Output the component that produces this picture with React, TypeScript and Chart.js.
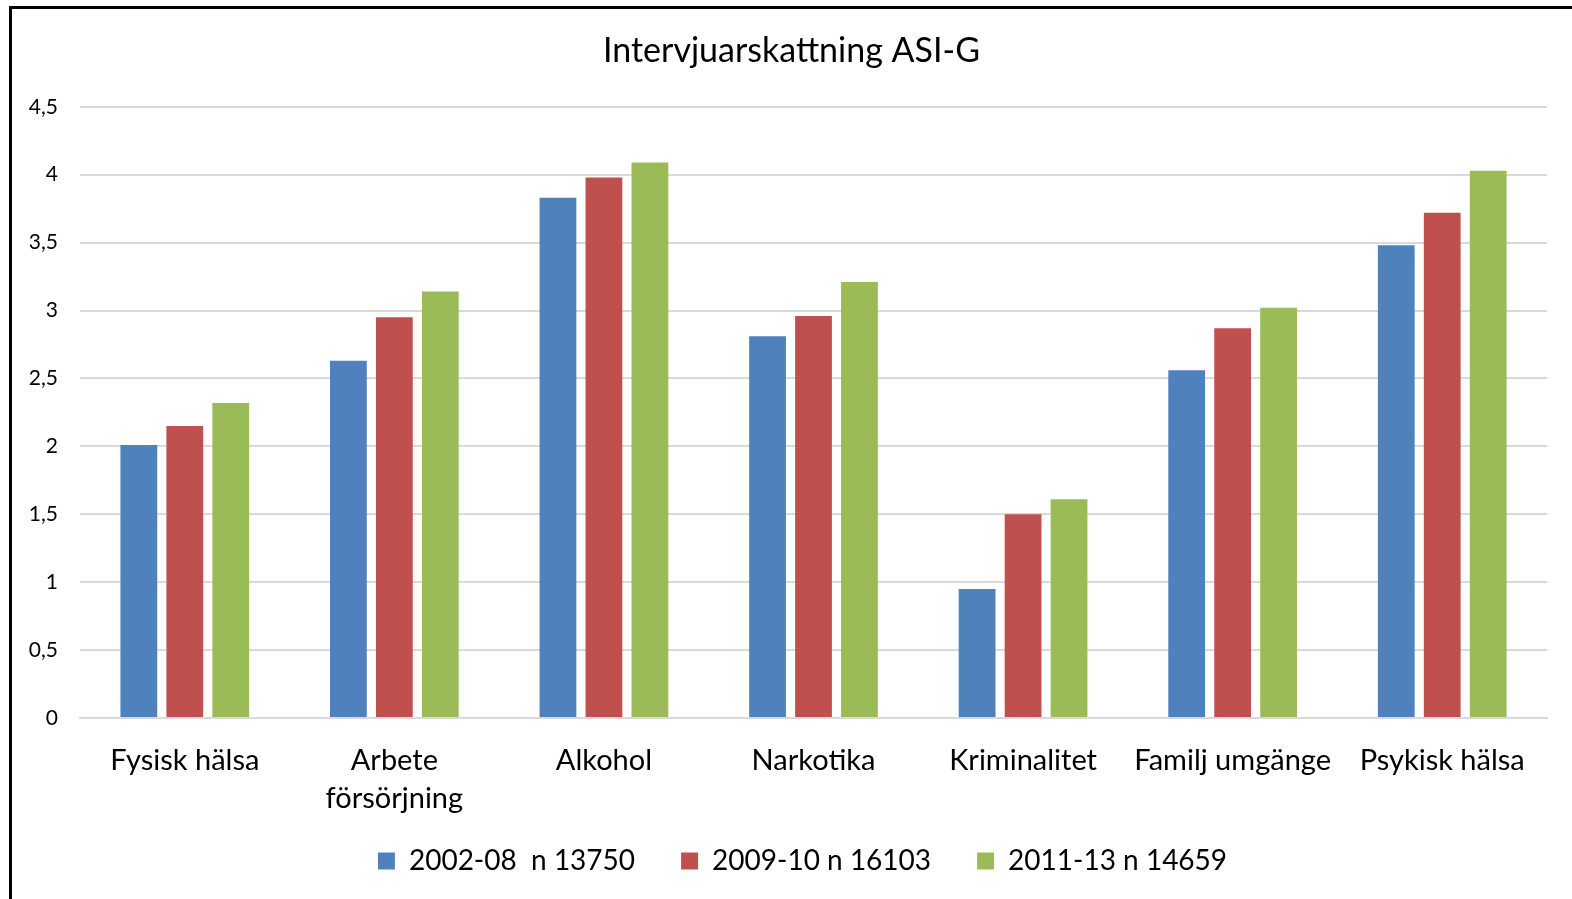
import React, { useEffect, useRef } from "react";
import { Chart, registerables } from "chart.js";

Chart.register(...registerables);

const categories: (string | string[])[] = [
  "Fysisk hälsa",
  ["Arbete", "försörjning"],
  "Alkohol",
  "Narkotika",
  "Kriminalitet",
  "Familj umgänge",
  "Psykisk hälsa",
];

const series2002: number[] = [2.01, 2.63, 3.83, 2.81, 0.95, 2.56, 3.48];
const series2009: number[] = [2.15, 2.95, 3.98, 2.96, 1.5, 2.87, 3.72];
const series2011: number[] = [2.32, 3.14, 4.09, 3.21, 1.61, 3.02, 4.03];

const seriesLabels: string[] = ["2002-08  n 13750", "2009-10 n 16103", "2011-13 n 14659"];
const seriesColors: string[] = ["#4F81BD", "#C0504D", "#9BBB59"];

const titleText = "Intervjuarskattning ASI-G";
const yMin = 0;
const yMax = 4.5;
const yStep = 0.5;

const FONT = "Lato, 'DejaVu Sans', sans-serif";
const W = 1572;
const H = 899;

const framePlugin = {
  id: "frame",
  afterLayout(chart: any) {
    const t = chart.titleBlock;
    if (t) {
      t.left += 18;
      t.right += 18;
    }
    const l = chart.legend;
    if (l) {
      l.left += 29;
      l.right += 29;
      l.top -= 17;
      l.bottom -= 17;
    }
  },
  afterDraw(chart: any) {
    const ctx = chart.ctx;
    ctx.save();
    ctx.fillStyle = "#000";
    ctx.fillRect(9, 6, 3, chart.height);
    ctx.fillRect(9, 6, chart.width, 3);
    ctx.restore();
  },
};

export default function App() {
  const ref = useRef<HTMLCanvasElement | null>(null);

  useEffect(() => {
    if (!ref.current) return;
    const data = [series2002, series2009, series2011];
    const chart = new Chart(ref.current, {
      type: "bar",
      data: {
        labels: categories,
        datasets: data.map((d, i) => ({
          label: seriesLabels[i],
          data: d,
          backgroundColor: seriesColors[i],
          borderWidth: 0,
          categoryPercentage: 0.658,
          barPercentage: 0.8,
        })),
      },
      options: {
        responsive: false,
        animation: false,
        devicePixelRatio: 1,
        layout: { padding: { left: 0, right: 25, top: 0, bottom: -3 } },
        plugins: {
          title: {
            display: true,
            text: titleText,
            color: "#000",
            font: { family: FONT, size: 34, weight: "normal" },
            padding: { top: 31, bottom: 35 },
          },
          legend: {
            position: "bottom",
            labels: {
              color: "#000",
              font: { family: FONT, size: 28 },
              boxWidth: 17,
              boxHeight: 17,
              padding: 46,
            },
          },
          tooltip: { enabled: false },
        },
        scales: {
          x: {
            grid: { display: false, drawTicks: false },
            border: { display: true, color: "#d9d9d9", width: 2 },
            ticks: {
              color: "#000",
              font: { family: FONT, size: 29, lineHeight: 1.31 },
              padding: 24,
              maxRotation: 0,
              autoSkip: false,
            },
            afterFit(scale: any) {
              scale.height = 100;
            },
          },
          y: {
            min: yMin,
            max: yMax,
            grid: { color: "#d9d9d9", lineWidth: 2, drawTicks: false },
            border: { display: false },
            ticks: {
              stepSize: yStep,
              color: "#000",
              font: { family: FONT, size: 21 },
              padding: 22,
              callback: (v: any) => String(v).replace(".", ","),
            },
            afterFit(scale: any) {
              scale.width = 80;
            },
          },
        },
      },
      plugins: [framePlugin],
    });
    return () => chart.destroy();
  }, []);

  return (
    <div style={{ position: "fixed", left: 0, top: 0, width: W, height: H, overflow: "hidden", background: "#fff" }}>
      <canvas ref={ref} width={W} height={H} style={{ display: "block" }} />
    </div>
  );
}
